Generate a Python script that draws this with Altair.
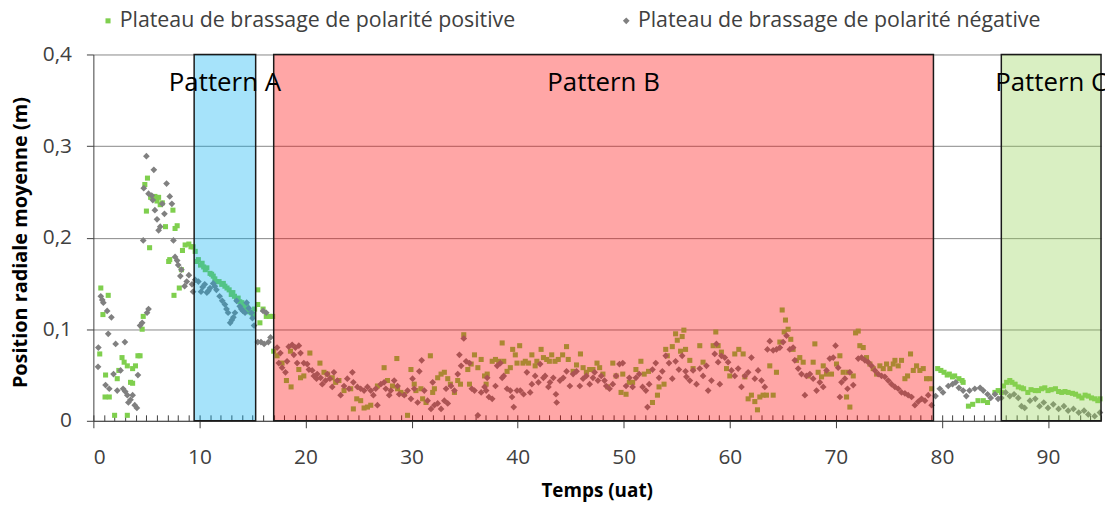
import altair as alt
import pandas as pd

POS_LABEL = "Plateau de brassage de polarité positive"
NEG_LABEL = "Plateau de brassage de polarité négative"

# ---- positive polarity (green squares): (time uat, radial position m)
pos_early = [(0.6,0.073),(0.7,0.145),(0.9,0.116),(1.1,0.026),(1.15,0.05),(1.4,0.137),(1.5,0.026),
             (2.0,0.006),(2.25,0.046),(2.4,0.055),(2.7,0.069),(2.9,0.064),(3.2,0.006),(3.2,0.06),
             (3.5,0.042),(3.7,0.057),(3.7,0.041),(3.97,0.06),(4.2,0.071),(4.4,0.071),(4.6,0.1),
             (4.7,0.114),(4.85,0.258),(5.0,0.229),(5.1,0.265),(5.3,0.189),(5.4,0.244),(5.8,0.245),
             (6.0,0.24),(6.15,0.244),(6.3,0.236),(6.5,0.238),(6.8,0.212),(7.1,0.174),(7.2,0.176),
             (7.5,0.23),(7.6,0.137),(7.7,0.21),(7.9,0.213),(8.1,0.145),(8.3,0.165),(8.4,0.186),
             (8.65,0.192),(9.0,0.193),(9.2,0.19),(9.4,0.19)]
pos_a = [(9.6,0.185),(9.75,0.174),(9.9,0.176),(10.1,0.17),(10.25,0.172),(10.4,0.168),(10.55,0.165),
         (10.7,0.167),(11.0,0.161),(11.15,0.16),(11.3,0.158),(11.45,0.155),(11.6,0.152),(11.85,0.152),
         (12.1,0.149),(12.25,0.15),(12.4,0.147),(12.6,0.145),(12.8,0.143),(13.0,0.138),(13.15,0.14),
         (13.3,0.136),(13.5,0.133),(13.65,0.134),(13.8,0.13),(14.0,0.129),(14.15,0.127),(14.3,0.122),
         (14.45,0.125),(14.6,0.12),(14.75,0.119),(14.9,0.118),(15.05,0.116),(15.2,0.122)]
pos_gap = [(15.5,0.143),(15.5,0.127),(15.7,0.107),(16.0,0.122),(16.3,0.114),(16.6,0.114),(16.9,0.114)]
pos_b = [(17.0,0.076),(17.32,0.071),(17.79,0.063),(18.2,0.044),(18.58,0.076),(18.64,0.037),(19.37,0.056),
         (19.53,0.047),(19.84,0.049),(20.41,0.074),(21.36,0.063),(21.74,0.053),(22.05,0.051),(22.52,0.047),
         (22.84,0.042),(23.15,0.044),(23.63,0.033),(24.26,0.035),(24.51,0.013),(24.83,0.024),(25.2,0.022),
         (25.52,0.014),(25.84,0.015),(26.15,0.017),(26.78,0.038),(27.41,0.058),(27.73,0.044),(28.2,0.038),
         (28.61,0.068),(28.68,0.035),(28.99,0.031),(29.31,0.029),(29.62,0.006),(29.94,0.056),(30.25,0.04),
         (30.41,0.033),(30.88,0.035),(31.04,0.024),(31.36,0.02),(31.77,0.071),(31.99,0.031),(32.15,0.035),
         (32.46,0.047),(32.78,0.051),(33.09,0.053),(33.41,0.046),(33.66,0.04),(34.04,0.031),(34.35,0.044),
         (34.61,0.04),(34.92,0.094),(35.3,0.056),(35.46,0.04),(35.62,0.062),(35.93,0.072),(36.25,0.058),
         (36.56,0.067),(36.88,0.049),(37.03,0.04),(37.13,0.051),(37.6,0.065),(37.91,0.067),(38.22,0.065),
         (38.54,0.085),(38.69,0.065),(39.0,0.054),(39.31,0.058),(39.53,0.078),(39.78,0.072),(39.94,0.063),
         (40.19,0.082),(40.5,0.063),(40.72,0.065),(41.03,0.063),(41.34,0.072),(41.65,0.06),(41.81,0.065),
         (42.21,0.078),(42.43,0.069),(42.74,0.067),(42.99,0.065),(43.21,0.072),(43.52,0.065),(43.83,0.067),
         (44.24,0.072),(44.61,0.081),(44.77,0.067),(45.23,0.054),(45.55,0.061),(45.92,0.073),(46.17,0.058),
         (46.48,0.053),(46.79,0.056),(47.1,0.056),(47.48,0.063),(47.73,0.058),(48.04,0.051),(48.5,0.037),
         (48.97,0.063),(49.28,0.049),(49.75,0.031),(49.91,0.051),(50.22,0.029),(50.53,0.042),(50.84,0.042),
         (51.15,0.056),(51.62,0.065),(51.93,0.051),(52.34,0.054),(52.71,0.02),(53.18,0.028),(53.33,0.037),
         (53.8,0.04),(53.96,0.078),(54.11,0.071),(54.58,0.081),(54.89,0.095),(55.05,0.088),(55.36,0.076),
         (55.51,0.092),(55.67,0.099),(55.83,0.078),(56.23,0.066),(56.54,0.057),(57.17,0.082),(57.48,0.064),
         (58.43,0.082),(58.68,0.097),(58.9,0.082),(59.21,0.075),(59.69,0.057),(60.0,0.049),(60.47,0.073),
         (60.85,0.078),(61.26,0.073),(61.42,0.048),(61.73,0.024),(62.04,0.028),(62.36,0.021),(62.61,0.012),
         (62.83,0.026),(63.14,0.028),(63.46,0.028),(63.77,0.06),(64.09,0.028),(64.4,0.053),(64.72,0.086),
         (64.94,0.121),(65.13,0.097),(65.25,0.11),(65.5,0.1),(65.75,0.089),(65.97,0.078),(66.29,0.066),
         (66.6,0.069),(66.92,0.064),(67.39,0.049),(67.86,0.064),(68.02,0.084),(68.33,0.053),(68.65,0.048),
         (68.81,0.06),(69.12,0.051),(69.59,0.051),(70.06,0.062),(70.38,0.071),(70.69,0.053),(71.01,0.026),
         (71.16,0.053),(71.32,0.015),(71.64,0.049),(71.86,0.096),(72.11,0.098),(72.26,0.082),(72.58,0.08),
         (72.89,0.069),(73.21,0.062),(73.52,0.057),(73.84,0.051),(74.15,0.06),(74.47,0.057),(74.78,0.062),
         (75.09,0.057),(75.41,0.062),(75.57,0.066),(75.88,0.06),(76.19,0.066),(76.51,0.046),(76.76,0.049),
         (77.04,0.073),(77.3,0.055),(77.61,0.06),(77.92,0.055),(78.24,0.057),(78.55,0.046),(78.87,0.046),
         (79.03,0.035)]
pos_late = [(79.6,0.057),(79.9,0.055),(80.2,0.053),(80.5,0.05),(80.7,0.051),(81.0,0.048),(81.2,0.049),
            (81.6,0.046),(81.9,0.044),(82.0,0.042),(82.5,0.016),(82.9,0.018),(83.4,0.022),(83.9,0.022),
            (84.3,0.02),(85.0,0.031),(85.3,0.033),(85.6,0.031)]
pos_c = [(85.8,0.038),(86.1,0.042),(86.4,0.044),(86.6,0.042),(86.9,0.04),(87.2,0.037),(87.5,0.036),
         (87.7,0.035),(88.1,0.031),(88.4,0.034),(88.8,0.033),(89.1,0.033),(89.4,0.035),(89.7,0.036),
         (90.0,0.033),(90.3,0.034),(90.7,0.035),(91.0,0.032),(91.3,0.031),(91.6,0.032),(91.9,0.031),
         (92.3,0.03),(92.6,0.029),(92.9,0.027),(93.2,0.025),(93.5,0.028),(93.8,0.027),(94.1,0.025),
         (94.4,0.024),(94.7,0.022),(94.9,0.024)]

# ---- negative polarity (grey diamonds)
neg_early = [(0.44,0.059),(0.47,0.08),(0.7,0.136),(0.84,0.132),(0.94,0.129),(1.15,0.039),(1.3,0.12),
             (1.4,0.095),(1.5,0.035),(1.7,0.113),(1.9,0.051),(2.1,0.084),(2.25,0.033),(2.56,0.055),
             (2.8,0.035),(2.97,0.086),(3.0,0.032),(3.2,0.028),(3.3,0.02),(3.5,0.023),(3.7,0.028),
             (3.9,0.017),(4.1,0.014),(4.2,0.05),(4.4,0.104),(4.6,0.107),(4.7,0.197),(4.75,0.254),
             (5.0,0.289),(5.06,0.118),(5.2,0.122),(5.2,0.248),(5.5,0.246),(5.6,0.241),(5.7,0.274),
             (5.8,0.23),(6.0,0.22),(6.15,0.208),(6.3,0.212),(6.5,0.237),(6.7,0.226),(6.9,0.259),
             (7.2,0.245),(7.4,0.237),(7.55,0.197),(7.7,0.179),(7.9,0.175),(8.0,0.17),(8.2,0.158),
             (8.3,0.165),(8.6,0.147),(8.8,0.152),(9.0,0.159),(9.3,0.149),(9.4,0.141)]
neg_a = [(9.6,0.154),(9.9,0.152),(10.15,0.141),(10.3,0.146),(10.5,0.149),(10.7,0.14),(10.85,0.142),
         (11.0,0.145),(11.3,0.15),(11.45,0.147),(11.6,0.143),(11.9,0.136),(12.15,0.131),(12.4,0.127),
         (12.55,0.122),(12.7,0.118),(12.9,0.107),(13.05,0.11),(13.2,0.113),(13.35,0.118),(13.5,0.131),
         (13.8,0.125),(13.95,0.122),(14.1,0.12),(14.3,0.118),(14.45,0.129),(14.65,0.123),(14.9,0.118),
         (15.0,0.112),(15.15,0.104)]
neg_gap = [(15.5,0.086),(15.8,0.086),(16.0,0.12),(16.1,0.084),(16.3,0.118),(16.5,0.086),(16.7,0.091)]
neg_b = [(17.32,0.08),(17.48,0.063),(17.63,0.074),(17.79,0.058),(18.11,0.053),(18.26,0.065),(18.42,0.081),
         (18.74,0.083),(18.9,0.072),(19.05,0.08),(19.21,0.063),(19.37,0.082),(19.53,0.074),(19.84,0.063),
         (20.16,0.062),(20.32,0.056),(20.63,0.055),(20.79,0.049),(21.04,0.046),(21.1,0.051),(21.42,0.047),
         (21.58,0.04),(21.89,0.044),(22.05,0.051),(22.3,0.046),(22.52,0.037),(22.68,0.053),(23.0,0.044),
         (23.31,0.028),(23.63,0.038),(23.94,0.046),(24.1,0.035),(24.42,0.053),(24.51,0.042),(24.89,0.037),
         (25.2,0.035),(25.52,0.033),(25.84,0.037),(26.15,0.033),(26.4,0.028),(26.62,0.035),(26.78,0.017),
         (27.1,0.04),(27.41,0.042),(27.57,0.035),(27.89,0.028),(28.04,0.033),(28.36,0.044),(28.68,0.038),
         (28.83,0.029),(29.31,0.028),(29.62,0.033),(29.94,0.024),(30.09,0.046),(30.25,0.035),(30.57,0.02),
         (30.73,0.054),(30.95,0.066),(31.2,0.033),(31.51,0.022),(31.83,0.013),(31.99,0.042),(32.15,0.017),
         (32.46,0.019),(32.78,0.013),(33.09,0.022),(33.25,0.035),(33.41,0.019),(33.72,0.038),(34.04,0.033),
         (34.35,0.051),(34.51,0.072),(34.67,0.06),(34.92,0.09),(35.14,0.065),(35.46,0.063),(35.68,0.035),
         (35.93,0.033),(36.25,0.006),(36.56,0.031),(36.88,0.037),(37.03,0.033),(37.13,0.047),(37.29,0.026),
         (37.6,0.024),(37.91,0.038),(38.07,0.06),(38.38,0.063),(38.54,0.047),(38.69,0.049),(39.0,0.035),
         (39.31,0.033),(39.47,0.026),(39.63,0.015),(39.94,0.033),(40.25,0.033),(40.56,0.029),(40.87,0.053),
         (41.18,0.031),(41.34,0.04),(41.65,0.049),(41.96,0.042),(42.12,0.062),(42.43,0.047),(42.59,0.049),
         (42.9,0.037),(43.05,0.042),(43.36,0.047),(43.61,0.029),(43.68,0.02),(43.99,0.044),(44.3,0.047),
         (44.61,0.054),(44.92,0.038),(45.23,0.051),(45.55,0.054),(45.86,0.038),(46.17,0.046),(46.48,0.049),
         (46.79,0.04),(47.1,0.047),(47.26,0.053),(47.57,0.044),(47.88,0.049),(48.19,0.044),(48.35,0.038),
         (48.66,0.035),(48.97,0.04),(49.28,0.049),(49.6,0.062),(49.91,0.063),(50.22,0.038),(50.53,0.047),
         (50.84,0.037),(51.15,0.047),(51.46,0.051),(51.78,0.037),(52.09,0.033),(52.24,0.015),(52.4,0.04),
         (52.71,0.056),(53.02,0.063),(53.33,0.047),(53.64,0.054),(53.96,0.071),(54.27,0.063),(54.58,0.046),
         (54.89,0.065),(55.2,0.056),(55.51,0.071),(55.83,0.054),(55.91,0.048),(56.23,0.044),(56.54,0.055),
         (56.86,0.04),(57.17,0.057),(57.48,0.049),(57.8,0.06),(57.96,0.033),(58.27,0.044),(58.58,0.073),
         (58.74,0.084),(58.9,0.064),(59.06,0.04),(59.21,0.071),(59.53,0.069),(59.84,0.064),(60.16,0.055),
         (60.47,0.049),(60.79,0.057),(61.1,0.037),(61.42,0.049),(61.73,0.053),(62.04,0.069),(62.36,0.046),
         (62.67,0.055),(62.99,0.044),(63.3,0.037),(63.55,0.078),(63.77,0.087),(64.09,0.077),(64.4,0.078),
         (64.72,0.08),(65.03,0.086),(65.35,0.093),(65.66,0.078),(65.97,0.08),(66.13,0.066),(66.45,0.057),
         (66.76,0.051),(67.08,0.028),(67.23,0.049),(67.55,0.051),(67.86,0.046),(68.18,0.033),(68.49,0.042),
         (68.81,0.037),(69.12,0.055),(69.43,0.068),(69.75,0.069),(69.97,0.082),(70.22,0.058),(70.38,0.026),
         (70.53,0.042),(70.85,0.046),(71.1,0.035),(71.32,0.053),(71.64,0.039),(72.11,0.068),(72.42,0.069),
         (72.74,0.066),(73.05,0.064),(73.36,0.06),(73.68,0.055),(73.99,0.051),(74.31,0.049),(74.62,0.048),
         (74.94,0.044),(75.25,0.04),(75.57,0.037),(75.88,0.035),(76.19,0.031),(76.51,0.03),(76.82,0.028),
         (77.14,0.026),(77.45,0.017),(77.77,0.021),(78.08,0.024),(78.4,0.022),(78.71,0.028),(79.03,0.017)]
neg_late = [(79.4,0.027),(79.8,0.035),(80.1,0.031),(80.6,0.038),(81.0,0.04),(81.3,0.042),(81.6,0.036),
            (82.0,0.033),(82.3,0.027),(82.6,0.033),(83.1,0.035),(83.6,0.036),(83.9,0.033),(84.3,0.029),
            (84.6,0.025),(85.0,0.029),(85.3,0.024),(85.6,0.025)]
neg_c = [(86.0,0.031),(86.4,0.027),(86.8,0.029),(87.2,0.025),(87.5,0.016),(87.8,0.014),(88.3,0.022),
         (88.8,0.024),(89.2,0.016),(89.6,0.02),(90.0,0.014),(90.5,0.018),(91.0,0.013),(91.5,0.016),
         (91.9,0.011),(92.4,0.013),(92.9,0.009),(93.4,0.011),(93.8,0.007),(94.4,0.005),(94.9,0.009)]

# ---- highlighted patterns
band_names = ["Pattern A", "Pattern B", "Pattern C"]
band_start = [9.5, 17.0, 85.6]
band_end = [15.3, 79.2, 95.0]
band_colors = ["#00b0f0", "#ff0000", "#92d050"]

x_ticks = [0, 10, 20, 30, 40, 50, 60, 70, 80, 90]
x_minor = list(range(0, 96))
y_ticks = [0, 0.1, 0.2, 0.3, 0.4]

FONT = "Open Sans"

rows = []
for seg in (pos_early, pos_a, pos_gap, pos_b, pos_late, pos_c):
    for t, v in seg:
        rows.append({"t": t, "v": v, "serie": POS_LABEL})
for seg in (neg_early, neg_a, neg_gap, neg_b, neg_late, neg_c):
    for t, v in seg:
        rows.append({"t": t, "v": v, "serie": NEG_LABEL})
df = pd.DataFrame(rows)

bands = pd.DataFrame({
    "name": band_names,
    "start": band_start,
    "end": band_end,
    "ylo": [0.0] * 3,
    "yhi": [0.4] * 3,
    "ylab": [0.369] * 3,
})
bands["mid"] = (bands["start"] + bands["end"]) / 2

xs = alt.Scale(domain=[0, 95], nice=False, zero=False)
ys = alt.Scale(domain=[0, 0.4], nice=False)

legend = alt.Legend(
    title=None, orient="none", direction="horizontal", columns=2,
    legendX=4, legendY=-45, columnPadding=100, labelLimit=0,
    labelFont=FONT, labelFontSize=21.5, labelColor="#404040",
    symbolSize=30, labelOffset=1, symbolStrokeWidth=0,
)

points = alt.Chart(df).mark_point(filled=True, opacity=1, strokeWidth=0).encode(
    x=alt.X("t:Q", scale=xs, axis=alt.Axis(
        orient="bottom", values=x_ticks, title="Temps (uat)", grid=False,
        tickSize=7, tickColor="#404040", domainColor="#404040", labelPadding=19,
        labelFont=FONT, labelFontSize=21, labelColor="#404040",
        titleFont=FONT, titleFontSize=19, titleFontWeight="bold", titleColor="#000000",
        titleX=507, titleY=70, titleAlign="center", titleBaseline="middle")),
    y=alt.Y("v:Q", scale=ys, axis=alt.Axis(
        orient="left", values=y_ticks, title="Position radiale moyenne (m)", grid=True,
        gridColor="#878787", gridWidth=1, tickSize=7, tickColor="#404040",
        domainColor="#404040", labelPadding=15,
        labelExpr="datum.value == 0 ? '0' : replace(format(datum.value, '.1f'), '.', ',')",
        labelFont=FONT, labelFontSize=21, labelColor="#404040",
        titleFont=FONT, titleFontSize=20, titleFontWeight="bold", titleColor="#000000",
        titleX=-73, titleY=189, titleAngle=270, titleAlign="center", titleBaseline="middle")),
    color=alt.Color("serie:N", scale=alt.Scale(domain=[POS_LABEL, NEG_LABEL],
                                               range=["#7fcf4e", "#808080"]), legend=legend),
    shape=alt.Shape("serie:N", scale=alt.Scale(domain=[POS_LABEL, NEG_LABEL],
                                               range=["square", "diamond"]), legend=legend),
    size=alt.Size("serie:N", scale=alt.Scale(domain=[POS_LABEL, NEG_LABEL], range=[26, 46]),
                  legend=None),
)

band_layer = alt.Chart(bands).mark_rect(
    fillOpacity=0.35, stroke="#1a1a1a", strokeWidth=1.5, strokeOpacity=1
).encode(
    x=alt.X("start:Q", scale=xs, axis=alt.Axis(
        orient="bottom", values=x_minor, offset=-6, tickSize=6, labels=False,
        domain=False, grid=False, title=None, tickColor="#404040")),
    x2="end:Q",
    y=alt.Y("ylo:Q", scale=ys, axis=None),
    y2="yhi:Q",
    fill=alt.Fill("name:N", scale=alt.Scale(domain=band_names, range=band_colors), legend=None),
)

labels = alt.Chart(bands).mark_text(
    font=FONT, fontSize=26, color="#000000", align="center", baseline="middle"
).encode(
    x=alt.X("mid:Q", scale=xs, axis=None),
    y=alt.Y("ylab:Q", scale=ys, axis=None),
    text="name:N",
)

chart = alt.layer(points, band_layer, labels).resolve_axis(
    x="independent", y="independent"
).properties(
    width=1015, height=369,
    autosize=alt.AutoSizeParams(type="none"),
    padding={"left": 86, "top": 45, "right": 4, "bottom": 85},
).configure_view(stroke=None)

chart.save("out.html", embed_options={"renderer": "svg", "actions": False})
